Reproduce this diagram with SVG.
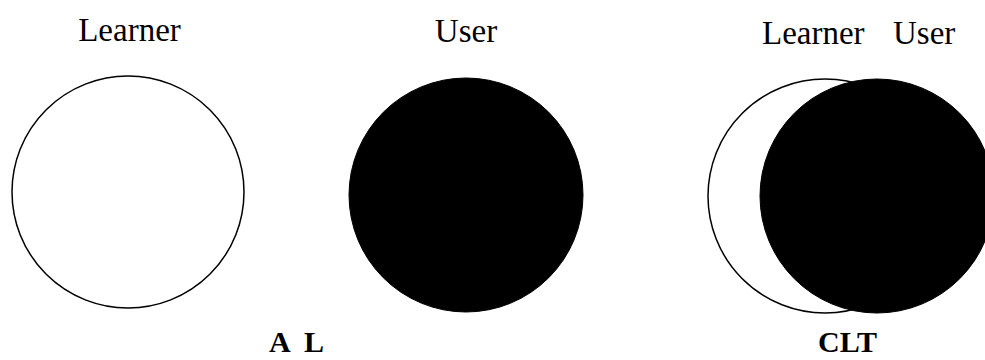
<svg xmlns="http://www.w3.org/2000/svg" width="985" height="360" viewBox="0 0 985 360">
<style>
.lbl{font-family:"Liberation Serif","Times New Roman",serif;font-size:33px;fill:#000}
.ttl{font-family:"Liberation Serif","Times New Roman",serif;font-size:30px;font-weight:bold;fill:#000}
.open{fill:#fff;stroke:#000;stroke-width:1.5}
.solid{fill:#000;stroke:#000;stroke-width:1}
</style>
<rect width="985" height="360" fill="#fff"/>
<g id="learner">
<text class="lbl" x="129.5" y="41" text-anchor="middle">Learner</text>
<circle class="open" cx="128" cy="192" r="116"/>
</g>
<g id="user">
<text class="lbl" x="466" y="42" text-anchor="middle">User</text>
<circle class="solid" cx="466" cy="195" r="117"/>
</g>
<g id="al">
<text class="ttl" x="269" y="352">A</text>
<text class="ttl" x="304" y="352">L</text>
</g>
<g id="clt-diagram">
<text class="lbl" x="762" y="44">Learner</text>
<text class="lbl" x="893" y="44">User</text>
<circle class="open" cx="825" cy="196" r="117"/>
<circle class="solid" cx="877" cy="196" r="117"/>
<text class="ttl" x="847.5" y="352" text-anchor="middle">CLT</text>
</g>
<g id="connectors"/>
</svg>
